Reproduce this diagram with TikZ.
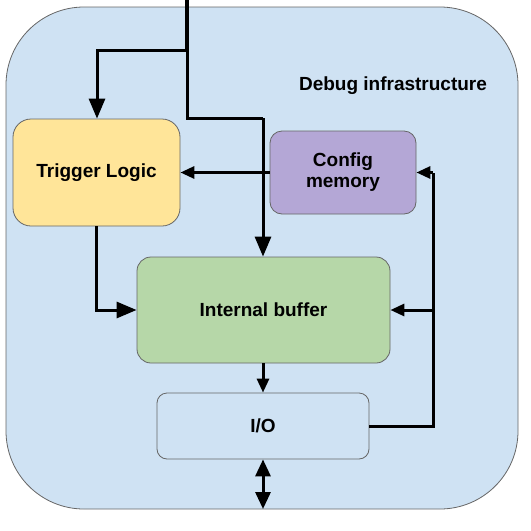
\documentclass[tikz,border=0pt]{standalone}
\usepackage{fontspec}
\setmainfont{Liberation Sans}
\usetikzlibrary{arrows.meta}
\definecolor{bgblue}{HTML}{CFE2F3}
\definecolor{tyellow}{HTML}{FFE599}
\definecolor{cpurple}{HTML}{B4A7D6}
\definecolor{bgreen}{HTML}{B6D7A8}
\definecolor{edgegray}{HTML}{666666}
\begin{document}
\begin{tikzpicture}[x=1pt,y=-1pt,
  txt/.style={font=\bfseries\fontsize{19}{21}\selectfont},
  blk/.style={draw=edgegray, line width=0.8pt, rounded corners=#1, txt, align=center, inner sep=0pt},
  blk/.default=14pt,
  conn/.style={line width=3pt, line join=miter},
  bigarr/.style={conn, -{Triangle[length=20pt,width=16pt]}},
  smarr/.style={conn, -{Triangle[length=14pt,width=12pt]}}
]
\useasboundingbox (0,0) rectangle (531,531);
% outer box
\node[draw=edgegray, fill=bgblue, line width=0.8pt, rounded corners=78pt, minimum width=512pt, minimum height=502pt, inner sep=0pt] (outer) at (262,258) {};
\node[txt, anchor=center] (title) at (393,86) {Debug infrastructure};
% blocks
\node[blk=18pt, fill=tyellow, minimum width=167pt, minimum height=107pt] (trig) at (96.5,172.5) {Trigger Logic};
\node[blk=12pt, fill=cpurple, minimum width=146pt, minimum height=83pt] (cfg) at (343,172.5) {Config\\memory};
\node[blk=14pt, fill=bgreen, minimum width=253pt, minimum height=106pt] (buf) at (263.5,310) {Internal buffer};
\node[blk=10pt, fill=bgblue, minimum width=212pt, minimum height=66pt] (io) at (263,426) {I/O};
% coordinates
\coordinate (in) at (187,0);
\coordinate (split) at (187,50);
\coordinate (turn1) at (97,50);
\coordinate (turn2) at (187,118);
\coordinate (turn3) at (263,118);
\coordinate (rail) at (433,426);
\coordinate (railbuf) at (433,310);
\coordinate (railtop) at (433,172.5);
\coordinate (bot) at (263,509);
% connectors
\draw[line width=4.5pt] (in) -- (split);
\draw[bigarr] (split) -- (turn1) -- (trig.north -| turn1);
\draw[conn] (split) -- (turn2) -- (turn3);
\draw[bigarr] (turn3) -- (buf.north -| turn3);
\draw[smarr] (cfg.west) -- (trig.east);
\draw[bigarr] (trig.south) -- (trig.south |- buf.west) -- (buf.west);
\draw[smarr] (buf.south -| io.north) -- (io.north);
\draw[conn] (io.east) -- (rail) -- (railtop);
\draw[smarr] (railtop) -- (cfg.east);
\draw[smarr] (railbuf) -- (buf.east);
\draw[conn, {Triangle[length=17pt,width=15pt]}-{Triangle[length=17pt,width=15pt]}] (io.south) -- (bot);
\end{tikzpicture}
\end{document}
